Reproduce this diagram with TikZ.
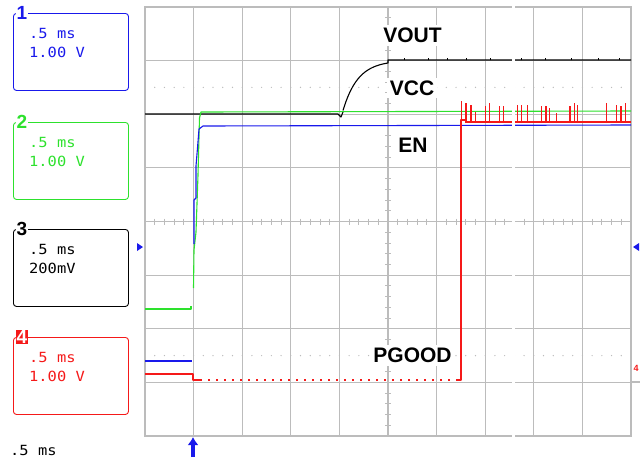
\documentclass[tikz,border=0pt]{standalone}
\usepackage{fontspec}
\newfontfamily\scopefont[FakeStretch=1.1]{DejaVu Sans Mono}
\newfontfamily\tracefont{Liberation Sans}
\usetikzlibrary{arrows.meta,positioning}

\definecolor{chblue}{RGB}{25,25,235}
\definecolor{chgreen}{RGB}{45,225,45}
\definecolor{chred}{RGB}{245,25,25}
\definecolor{gridgray}{RGB}{188,188,188}

\tikzset{
  gridline/.style={draw=gridgray, line width=1.2pt},
  gridtick/.style={draw=gridgray, line width=0.8pt},
  chbox/.style={draw, rounded corners=3pt, line width=0.9pt, minimum width=115pt,
    minimum height=77pt, anchor=north west, inner sep=0pt},
  chnum/.style={font=\tracefont\bfseries\fontsize{19}{19}\selectfont, fill=white, inner sep=1pt},
  chtext/.style={font=\scopefont\fontsize{14}{19}\selectfont, align=left, inner sep=0pt},
  trace/.style={line width=1.1pt, line join=round},
  tracelabel/.style={font=\tracefont\bfseries\fontsize{21}{21}\selectfont, fill=white, inner sep=3pt},
}

\begin{document}
\begin{tikzpicture}[x=1pt,y=-1pt]
    \useasboundingbox (0,0) rectangle (644,463);

    % draw grid
    \draw[gridline] (145,7) rectangle (631,436);
    \foreach \i in {1,...,9}
      \draw[gridline] ({145+48.6*\i},7) -- ({145+48.6*\i},436);
    \foreach \j in {1,...,7}
      \draw[gridline] (145,{7+53.625*\j}) -- (631,{7+53.625*\j});

    % draw center ticks and dotted rows
    \foreach \k in {1,...,49} {
      \draw[gridtick] ({145+9.72*\k},218.5) -- ({145+9.72*\k},224.5);
      \fill[gridgray] ({145+9.72*\k},87.4) circle (0.7pt);
      \fill[gridgray] ({145+9.72*\k},355.6) circle (0.7pt);
    }
    \foreach \k in {1,...,39}
      \draw[gridtick] (385,{7+10.725*\k}) -- (391,{7+10.725*\k});

    % draw black trace (VOUT)
    \draw[trace, black] (145,114) -- (338,114) -- (341,117) -- (343,112);
    \draw[trace, black] plot[domain=343:388, samples=30] (\x,{60.5+50*exp(-(\x-343)/15)})
      -- (388,60) -- (631,60);
    \foreach \x in {404,428,447,466,490,521,545,571,598,619}
      \draw[trace, black, line width=0.7pt] (\x,60) -- (\x,58);

    % draw green trace (VCC)
    \draw[trace, chgreen] (145,309) -- (191,309) -- (191,306);
    \draw[trace, chgreen] (193.5,288) -- (194,250) -- (196,232) -- (198,175) -- (199.5,118)
      -- (201,112) -- (631,111);

    % draw blue trace (EN)
    \draw[trace, chblue] (145,361) -- (192,361);
    \draw[trace, chblue] (194,244) -- (194,200) -- (196,198) -- (196,166) -- (197.5,148)
      -- (199,129) -- (203,126) -- (631,125);

    % draw red trace (PGOOD)
    \draw[trace, chred] (145,374) -- (193,374) -- (193,380) -- (200,380);
    \draw[trace, chred, dash pattern=on 2pt off 6pt] (200,380) -- (458,380);
    \draw[trace, chred] (458,380) -- (461,380) -- (461,120) -- (466,120) -- (466,122) -- (631,122);
    \foreach \x/\t in {461.7/101,466/103,471/105,475.7/112,485.7/106,489.3/103,499.3/106,
                       503.3/106,517.3/105,521.7/105,527.3/105,541.7/106,546/106,549.3/108,
                       556.7/113,570/106,574.3/103,577.7/105,606.7/103,616.7/105,621/106,625.7/103}
      \draw[trace, chred, line width=1.2pt] (\x,123) -- (\x,\t);

    % white strip across the screen
    \fill[white] (512,0) rectangle (515,463);

    % draw trace labels
    \node[tracelabel] (vout) at (412.5,35.5) {VOUT};
    \node[tracelabel] (vcc) at (412,88) {VCC};
    \node[tracelabel] (en) at (413,145) {EN};
    \node[tracelabel] (pgood) at (412.5,355.5) {PGOOD};

    % draw channel boxes
    \node[chbox, draw=chblue] (box1) at (13,13) {};
    \node[chbox, draw=chgreen] (box2) at (13,122) {};
    \node[chbox, draw=black] (box3) at (13,229) {};
    \node[chbox, draw=chred] (box4) at (13,337) {};

    \node[chnum, text=chblue] (num1) at ([xshift=9pt]box1.north west) {1};
    \node[chnum, text=chgreen] (num2) at ([xshift=9pt]box2.north west) {2};
    \node[chnum, text=black] (num3) at ([xshift=9pt]box3.north west) {3};
    \node[chnum, fill=chred, text=white, inner sep=0.5pt] (num4) at ([xshift=9pt]box4.north west) {4};

    \node[chtext, text=chblue, below right=15pt and 16pt of box1.north west] (set1) {.5 ms\\1.00 V};
    \node[chtext, text=chgreen, below right=15pt and 16pt of box2.north west] (set2) {.5 ms\\1.00 V};
    \node[chtext, text=black, below right=15pt and 16pt of box3.north west] (set3) {.5 ms\\200mV};
    \node[chtext, text=chred, below right=15pt and 16pt of box4.north west] (set4) {.5 ms\\1.00 V};

    \node[chtext, anchor=north west] (timebase) at (10,445) {.5 ms};

    % draw markers
    \fill[chblue] (137,243) -- (143,247) -- (137,251) -- cycle;
    \fill[chblue] (639,243) -- (633,247) -- (639,251) -- cycle;
    \node[font=\tracefont\bfseries\fontsize{9}{9}\selectfont, text=chred, inner sep=0pt] (mark4) at (636,368) {4};
    \draw[gridline] (632,382) -- (640,382);

    \coordinate (trig) at (193,437);
    \draw[chblue, line width=3.4pt, -{Latex[length=8pt,width=11pt]}] (193,457) -- (trig);
\end{tikzpicture}
\end{document}
